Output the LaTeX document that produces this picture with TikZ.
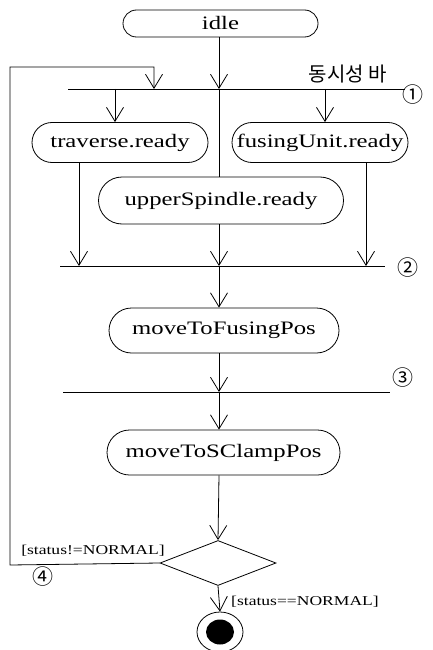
\documentclass[tikz,border=0pt]{standalone}
\usepackage{fontspec}
\setmainfont{Liberation Serif}[FakeStretch=1.3]
\newfontfamily\kofont{Noto Sans CJK KR}
\usetikzlibrary{arrows.meta,shapes.geometric,shapes.misc}
\begin{document}
\begin{tikzpicture}[x=1pt,y=-1pt,
  line width=0.8pt,
  arr/.style={-{Straight Barb[length=14pt,width=17pt,line width=0.8pt]}},
  act/.style={draw,rounded rectangle,inner sep=0pt,font=\fontsize{19}{21}\selectfont},
  lbl/.style={inner sep=0pt,font=\fontsize{13.5}{15}\selectfont},
  num/.style={inner sep=0pt,font=\kofont\fontsize{21}{22}\selectfont}
]
\useasboundingbox (0,0) rectangle (432,650);
% nodes
\node[act,minimum width=195pt,minimum height=27pt] (idle) at (220.5,23.5) {idle};
\node[act,minimum width=176pt,minimum height=40pt] (trav) at (120,142.5) {traverse.ready};
\node[act,minimum width=176pt,minimum height=40pt] (fuse) at (320,142.5) {fusingUnit.ready};
\node[act,minimum width=245pt,minimum height=47pt] (upper) at (221,200.5) {upperSpindle.ready};
\node[act,minimum width=230pt,minimum height=45pt] (mfp) at (224,330.5) {moveToFusingPos};
\node[act,minimum width=233pt,minimum height=45pt] (mscp) at (223.5,452.5) {moveToSClampPos};
\node[draw,diamond,minimum width=116pt,minimum height=45pt,inner sep=0pt] (dec) at (218,563) {};
\node[draw,ellipse,minimum width=46pt,minimum height=40pt,inner sep=0pt] (final) at (220,632) {};
\fill (final.center) ellipse [x radius=14pt,y radius=12.5pt];
% bars
\coordinate (b1l) at (68,89); \coordinate (b1r) at (405,89);
\coordinate (b2l) at (60,266); \coordinate (b2r) at (385,266);
\coordinate (b3l) at (63,392); \coordinate (b3r) at (390,392);
\draw (b1l) -- (b1r);
\draw (b2l) -- (b2r);
\draw (b3l) -- (b3r);
\coordinate (loopa) at (10,565);
\coordinate (loopb) at (10,67);
\coordinate (loopc) at (154,67);
\coordinate (loopd) at (154,89);
% connectors
\draw[arr] (idle.south -| 219,0) -- (219,89);
\draw[arr] (dec.west) -- (loopa) -- (loopb) -- (loopc) -- (loopd);
\draw[arr] (115,89) -- (trav.north -| 115,0);
\draw[arr] (325,89) -- (fuse.north -| 325,0);
\draw (219,89) -- (upper.north -| 219,0);
\draw[arr] (trav.south -| 79,0) -- (79,266);
\draw[arr] (upper.south -| 219,0) -- (219,266);
\draw[arr] (fuse.south -| 366,0) -- (366,266);
\draw[arr] (219,266) -- (mfp.north -| 219,0);
\draw[arr] (mfp.south -| 219,0) -- (219,392);
\draw[arr] (219,392) -- (mscp.north -| 219,0);
\draw[arr] (mscp.south -| 219,0) -- (dec.north);
\draw[arr] (dec.south) -- (final.north);
% labels
\node[inner sep=0pt,font=\kofont\fontsize{20}{22}\selectfont] (bartxt) at (348,74) {동시성 바};
\node[num] (n1) at (413,95) {①};
\node[num] (n2) at (408,268) {②};
\node[num] (n3) at (403,378) {③};
\node[num] (n4) at (43,577) {④};
\node[lbl] (g1) at (93,551) {[status!=NORMAL]};
\node[lbl] (g2) at (305,602) {[status==NORMAL]};
\end{tikzpicture}
\end{document}
